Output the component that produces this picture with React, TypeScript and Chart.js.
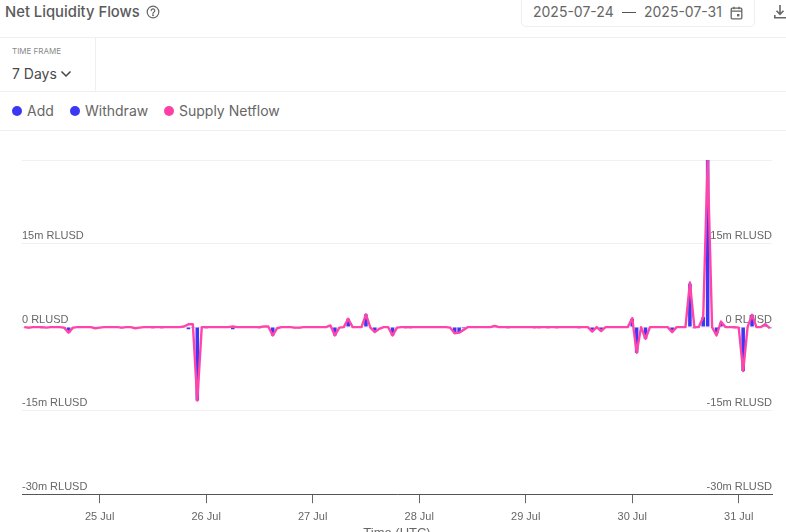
import React, { useEffect, useRef } from "react";
import { Chart, registerables } from "chart.js";

Chart.register(...registerables);

const START_UTC = Date.UTC(2025, 6, 24, 7);
const MONTHS = ["Jan","Feb","Mar","Apr","May","Jun","Jul","Aug","Sep","Oct","Nov","Dec"];

// millions of RLUSD per hour
const netflow = [
  0,-0.1,0,0,0,-0.1,0,0,0,-0.1,
  -1.0,-0.1,0,0,0,0,-0.2,-0.1,0,0,
  0,0,-0.1,0,0,-0.2,-0.1,0,0,0,
  0,0,0,0,0,0,0.1,0.5,0.5,-13.2,
  0,0,0,0,0,0,0,0.1,0,0,
  0,0,0,0,0.1,0.1,-1.5,-0.2,0,0,
  0,-0.1,-0.1,0,0,0,0,0,0,0.3,
  -1.5,-0.1,0,1.5,0,0,0,2.3,-0.1,-0.9,
  -0.3,0,0,-1.5,-0.1,0,0,0,0,0,
  0,0,0,0,0,0,-0.1,-1.1,-1.0,-0.5,
  0,0,0,0,0,0,0.2,0,0,0,
  0,0,0,0,0,0,0,0,0,0,
  0,0,0,0,0,0,0,0,-0.8,0,
  -0.7,0,0,0,0,0,0,1.6,-4.6,0,
  -2.1,0,0,0,0,0,-0.9,0,0,0,
  8.0,0,0,1.8,30,0,-1.5,1.0,0,0,
  0,-0.1,-7.9,0,2.2,0,0,0.5,-0.2,
];
const add = [
  0,0,0,0,0,0,0,0,0,0,
  0,0,0,0,0,0,0,0,0,0,
  0,0,0,0,0,0,0,0,0,0,
  0,0,0,0,0,0,0,0,0,0,
  0,0,0,0,0,0,0,0,0,0,
  0,0,0,0,0,0,0,0,0,0,
  0,0,0,0,0,0,0,0,0,0,
  0,0,0,1.5,0,0,0,2.3,0,0,
  0,0,0,0,0,0,0,0,0,0,
  0,0,0,0,0,0,0,0,0,0,
  0,0,0,0,0,0,0.3,0,0,0,
  0,0,0,0,0,0,0,0,0,0,
  0,0,0,0,0,0,0,0,0,0,
  0,0,0,0,0,0,0,1.5,0,0,
  0,0,0,0,0,0,0,0,0,0,
  7.8,0,0,1.8,30,0,0,0.8,0,0,
  0,0,0,0,2.2,0,0,0.6,0,
];
const withdraw = [
  0,-0.2,0,0,-0.2,0,0,0,0,-0.2,
  -1.0,-0.1,0,0,0,0,-0.2,0,0,0,
  0,0,-0.2,0,0,-0.3,0,0,0,-0.2,
  0,-0.2,0,0,0,0,0,-0.4,-0.1,-13.2,
  0,-0.2,0,0,0,0,0,-0.4,0,0,
  0,0,0,-0.2,0,0,-1.5,0,0,0,
  -0.1,-0.2,-0.2,-0.1,0,0,0,0,0,0,
  -1.5,0,0,0,0,0,0,0,0,-0.9,
  0,0,0,-1.5,0,0,-0.2,-0.2,0,0,
  0,0,0,0,-0.1,0,0,-1.1,-1.0,-0.2,
  0,-0.1,0,0,0,0,0,0,0,-0.2,
  0,0,0,0,0,-0.2,-0.2,0,-0.2,0,
  -0.2,0,0,0,0,-0.2,0,0,-0.6,0,
  -0.5,0,0,0,0,0,0,0,-4.6,0,
  -2.1,0,0,0,0,0,-0.8,0,0,0,
  0,-0.2,0,0,0,0,-1.2,0,0,0,
  -0.2,-0.1,-7.9,0,0,0,0,0,-0.2,
];

const yTicks = ["-30m RLUSD", "-15m RLUSD", "0 RLUSD", "15m RLUSD"];
const yTickValues = [-30, -15, 0, 15];
const legendItems = [
  { name: "Add", color: "#3b37f4" },
  { name: "Withdraw", color: "#3b37f4" },
  { name: "Supply Netflow", color: "#ff3fa6" },
];

const hours = netflow.map((_, i) => START_UTC + i * 3600000);

function yLabel(value: number) {
  const i = yTickValues.indexOf(value);
  return i < 0 ? "" : [yTicks[i], ""];
}

function yAxis(position: string, gridOn: boolean) {
  return {
    type: "linear",
    position,
    min: -30,
    max: 30,
    border: { display: false },
    grid: { display: gridOn, color: "#f0f0f0", lineWidth: 1, drawTicks: false },
    ticks: {
      stepSize: 15,
      mirror: true,
      padding: 0,
      color: "#666666",
      font: { family: "'Liberation Sans', Arial, sans-serif", size: 11, lineHeight: "15px" },
      callback: yLabel,
    },
  };
}

const FONT = "Inter, 'Noto Sans', sans-serif";

export default function App() {
  const ref = useRef<HTMLCanvasElement>(null);
  useEffect(() => {
    const chart = new Chart(ref.current as HTMLCanvasElement, {
      type: "bar",
      data: {
        labels: hours,
        datasets: [
          { type: "line", label: "Supply Netflow", data: netflow, borderColor: "#ff45aa", backgroundColor: "#ff45aa", borderWidth: 2.4, borderJoinStyle: "round", pointRadius: 0, tension: 0, order: 0, yAxisID: "y" },
          { type: "bar", label: "Add", data: add, backgroundColor: "#3b37f4", grouped: false, barPercentage: 0.8, categoryPercentage: 1, order: 1, yAxisID: "y" },
          { type: "bar", label: "Withdraw", data: withdraw, backgroundColor: "#3b37f4", grouped: false, barPercentage: 0.8, categoryPercentage: 1, order: 2, yAxisID: "y" },
        ],
      } as any,
      options: {
        responsive: false,
        animation: false,
        layout: { padding: { left: 22, right: 14, top: 29, bottom: 0 } },
        plugins: { legend: { display: false }, tooltip: { enabled: false } },
        scales: {
          x: {
            type: "category",
            border: { display: true, color: "#555555", width: 1 },
            grid: { display: true, offset: false, drawOnChartArea: false, drawTicks: true, tickLength: 9, tickColor: "#666666" },
            afterBuildTicks: (axis: any) => {
              axis.ticks = axis.ticks.filter((t: any) => (hours[t.value] - Date.UTC(2025, 6, 24)) % 86400000 === 0);
            },
            ticks: {
              autoSkip: false,
              maxRotation: 0,
              padding: 7,
              color: "#666666",
              font: { family: "'Liberation Sans', Arial, sans-serif", size: 11 },
              callback: function (value: any) {
                const d = new Date(hours[value]);
                return `${d.getUTCDate()} ${MONTHS[d.getUTCMonth()]}`;
              },
            },
            title: {
              display: true,
              text: "Time (UTC)",
              color: "#666666",
              font: { family: "'Liberation Sans', Arial, sans-serif", size: 13 },
              padding: { top: -5, bottom: 0 },
            },
          },
          y: yAxis("left", true),
          y1: yAxis("right", false),
        },
      } as any,
    });
    return () => chart.destroy();
  }, []);

  const abs = (left: number, top: number, extra: React.CSSProperties = {}): React.CSSProperties => ({
    position: "absolute", left, top, whiteSpace: "nowrap", fontFamily: FONT, ...extra,
  });
  const rule = (top: number): React.CSSProperties => ({ position: "absolute", left: 0, width: 786, top, height: 1, background: "#efefef" });

  return (
    <div style={{ position: "absolute", left: 0, top: 0, width: 786, height: 532, overflow: "hidden", background: "#fff" }}>
      <div style={abs(5, 2, { fontSize: 14.8, lineHeight: "20px", fontWeight: 500, color: "#5a5a5a" })}>Net Liquidity Flows</div>
      <svg style={{ position: "absolute", left: 146, top: 5 }} width="14" height="14" viewBox="0 0 14 14" fill="none" stroke="#666" strokeWidth="1.2">
        <circle cx="7" cy="7" r="5.8" />
        <path d="M5.2 5.6a1.8 1.8 0 1 1 2.6 1.6c-.6.3-.8.7-.8 1.2" strokeLinecap="round" />
        <circle cx="7" cy="10.2" r=".4" />
      </svg>

      <div style={{ position: "absolute", left: 521, top: -6, width: 234, height: 33, border: "1px solid #eeeeee", borderRadius: 5, boxSizing: "border-box" }} />
      <div style={abs(533, 2, { fontSize: 14, lineHeight: "20px", color: "#666" })}>2025-07-24</div>
      <div style={{ position: "absolute", left: 622, top: 12, width: 14, height: 1, background: "#555" }} />
      <div style={abs(644, 2, { fontSize: 14, lineHeight: "20px", color: "#666" })}>2025-07-31</div>
      <svg style={{ position: "absolute", left: 730, top: 6 }} width="13" height="14" viewBox="0 0 13 14" fill="none" stroke="#666" strokeWidth="1.3">
        <rect x="1.2" y="2.2" width="10.6" height="10.6" rx="1" />
        <path d="M1.2 5.2h10.6M4 .8v2.4M9 .8v2.4" />
        <rect x="7" y="8" width="2.4" height="2.4" fill="#666" stroke="none" />
      </svg>
      <svg style={{ position: "absolute", left: 774, top: 5 }} width="12" height="15" viewBox="0 0 12 15" fill="none" stroke="#666" strokeWidth="1.6">
        <path d="M6 0v9M2.5 5.8L6 9.3l3.5-3.5M.8 10v2.8H14" />
      </svg>

      <div style={rule(37)} />
      <div style={{ position: "absolute", left: 95, top: 37, width: 1, height: 54, background: "#efefef" }} />
      <div style={abs(12, 46, { fontSize: 8, lineHeight: "11px", color: "#8a8a8a" })}>TIME FRAME</div>
      <div style={abs(12, 64, { fontSize: 14, lineHeight: "20px", color: "#4a4a4a" })}>7 Days</div>
      <svg style={{ position: "absolute", left: 60, top: 70 }} width="12" height="8" viewBox="0 0 12 8" fill="none" stroke="#444" strokeWidth="1.5">
        <path d="M1.5 1.5L6 6l4.5-4.5" />
      </svg>
      <div style={rule(91)} />

      {legendItems.map((item, i) => {
        const dot = [12, 70, 164][i];
        const text = [27, 85, 179][i];
        return (
          <React.Fragment key={item.name}>
            <div style={{ position: "absolute", left: dot, top: 106, width: 10, height: 10, borderRadius: "50%", background: item.color }} />
            <div style={abs(text, 101, { fontSize: 14, lineHeight: "20px", color: "#666" })}>{item.name}</div>
          </React.Fragment>
        );
      })}
      <div style={rule(130)} />

      <canvas ref={ref} width={786} height={410} style={{ position: "absolute", left: 0, top: 131, display: "block" }} />
    </div>
  );
}
